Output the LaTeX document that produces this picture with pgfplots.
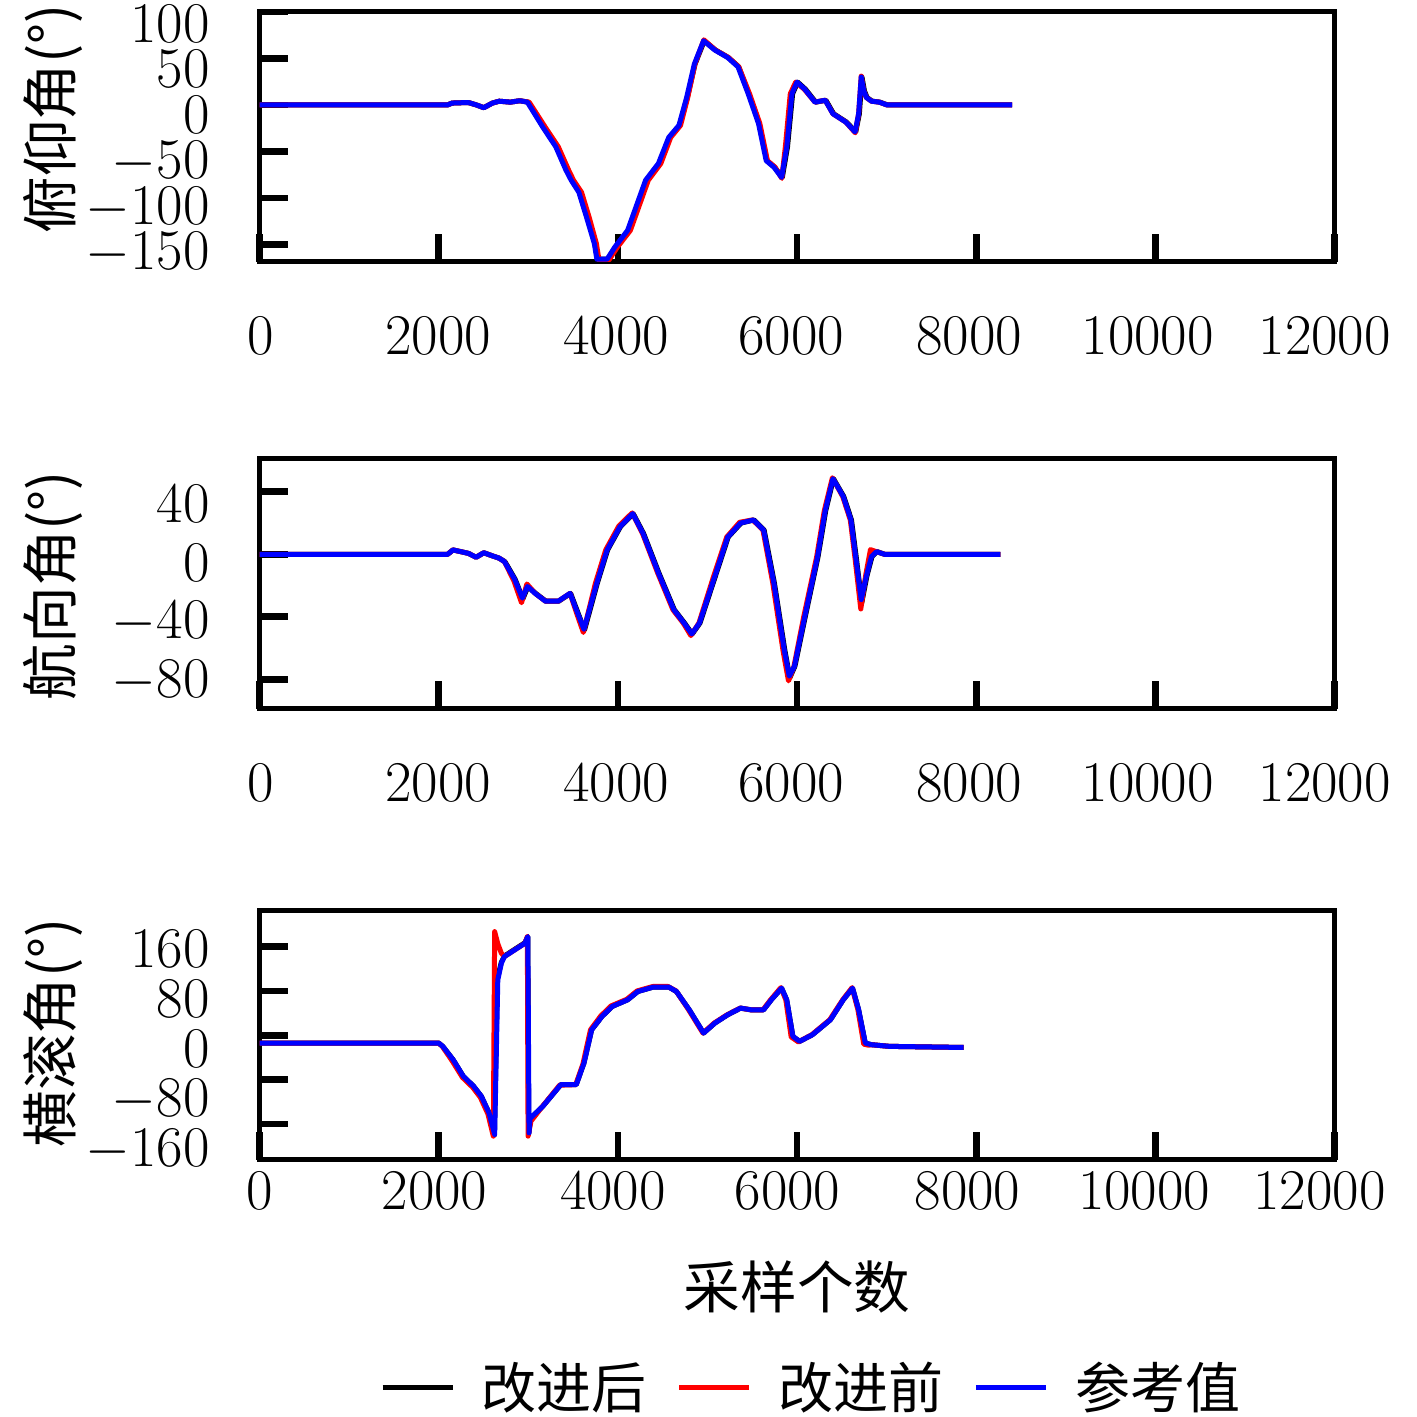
\documentclass[border=0pt]{standalone}
\usepackage{pgfplots}
\pgfplotsset{compat=1.18}
\usepackage{pgfplotstable}
\usepackage{fontspec}
\newfontfamily\cjk{Noto Sans CJK SC}

% ---------- pitch ----------
\pgfplotstableread{
x y
0 0
2100 0
2150 2
2330 2.6
2420 0
2504 -3
2600 2
2676 4
2800 3
2905 4.5
2998 3
3170 -24
3315 -45
3428 -70
3487 -81
3573 -94
3659 -121
3745 -149
3774 -166
3888 -166
3974 -153
4117 -135
4318 -81
4461 -63
4576 -35
4690 -22
4776 8
4862 44
4965 69
5091 59
5234 51
5349 41
5463 12
5578 -20
5664 -60
5750 -67
5836 -78
5894 -45
5951 12
6008 24.5
6094 17
6209 3
6323 5
6409 -9.5
6553 -18.5
6656 -29
6696 -9.5
6725 30
6753 15
6782 8
6839 4
6925 3
7011 0
8400 0
}\pitchblack
\pgfplotstableread{
x y
0 0
2100 0
2150 2
2330 2.6
2420 0
2504 -3
2600 2
2676 4
2800 3
2905 4.5
3010 3
3190 -24
3335 -45
3450 -70
3505 -81
3595 -94
3680 -121
3760 -149
3790 -167
3900 -167
3995 -153
4140 -135
4340 -81
4480 -63
4590 -35
4700 -22
4780 8
4860 44
4960 70
5090 59
5235 51
5350 41
5470 12
5585 -20
5670 -60
5755 -67
5830 -79
5870 -45
5925 12
5985 24.5
6080 17
6201 3
6315 5
6401 -9.5
6545 -18.5
6650 -30
6688 -9.5
6717 31
6745 15
6774 8
6831 4
6917 3
7003 0
8400 0
}\pitchred
\pgfplotstableread{
x y
0 0
2100 0
2150 2
2330 2.6
2420 0
2504 -3
2600 2
2676 4
2800 3
2905 4.5
2990 3
3163 -24
3307 -45
3420 -70
3479 -81
3565 -94
3651 -121
3737 -149
3766 -166
3880 -166
3966 -153
4109 -135
4310 -81
4453 -63
4568 -35
4682 -22
4768 8
4854 44
4957 69
5083 59
5226 51
5341 41
5455 12
5570 -20
5656 -60
5742 -67
5828 -78
5886 -45
5943 12
6000 24.5
6086 17
6201 3
6315 5
6401 -9.5
6545 -18.5
6648 -29
6688 -9.5
6717 30
6745 15
6774 8
6831 4
6917 3
7003 0
8400 0
}\pitchref

% ---------- yaw ----------
\pgfplotstableread{
x y
0 0
2100 0
2160 2.8
2332 0.6
2418 -1.9
2504 1
2600 -1
2676 -2.5
2740 -4.7
2854 -16
2940 -28.5
2997 -20.6
3083 -25
3198 -30
3341 -30
3473 -25
3542 -35.5
3628 -48.5
3771 -18.5
3886 2.8
4029 17.6
4172 26
4287 13.4
4459 -12
4631 -35.5
4745 -44
4831 -51
4917 -44
5089 -14
5232 11
5376 20
5519 22
5633 15.5
5748 -18.5
5863 -61
5920 -79
5977 -71.6
6092 -40
6235 -1.5
6321 28
6407 48.4
6522 37
6608 22
6665 -3.6
6723 -31
6780 -14
6837 -1.5
6894 1.7
6981 0
8270 0
}\yawblack
\pgfplotstableread{
x y
0 0
2100 0
2160 2.8
2332 0.6
2418 -1.9
2504 1
2600 -1
2676 -2.5
2734 -4.7
2840 -17
2925 -31
2985 -19
3077 -25
3192 -30
3335 -30
3467 -25
3530 -36
3615 -50
3750 -18.5
3865 2.8
4010 18
4160 26.5
4275 13.4
4445 -12
4615 -35.5
4730 -44
4815 -52
4905 -44
5070 -14
5215 11
5360 20.5
5505 22
5620 15.5
5730 -18.5
5845 -62
5905 -81
5965 -72
6075 -40
6220 -1.5
6305 28
6395 49
6510 37
6595 22
6650 -3.6
6712 -35
6765 -14
6820 3
6870 2
6975 0
8270 0
}\yawred
\pgfplotstableread{
x y
0 0
2100 0
2160 2.8
2332 0.6
2418 -1.9
2504 1
2600 -1
2676 -2.5
2734 -4.7
2848 -16
2934 -28
2991 -20.6
3077 -25
3192 -30
3335 -30
3467 -25
3536 -35.5
3622 -48
3765 -18.5
3880 2.8
4023 17.6
4166 26
4281 13.4
4453 -12
4625 -35.5
4739 -44
4825 -51
4911 -44
5083 -14
5226 11
5370 20
5513 22
5627 15.5
5742 -18.5
5857 -61
5914 -78
5971 -71.6
6086 -40
6229 -1.5
6315 28
6401 48.4
6516 37
6602 22
6659 -3.6
6717 -29
6774 -14
6831 -1.5
6888 1.7
6975 0
8270 0
}\yawref

% ---------- roll ----------
\pgfplotstableread{
x y
0 -14
2000 -14
2046 -20
2161 -44
2275 -74
2390 -92
2476 -110
2562 -140
2622 -180
2655 102
2700 132
2734 143
2848 155
2963 167
2995 178
3005 -178
3025 -151
3163 -128
3364 -89
3536 -89
3622 -50
3708 10
3823 34
3937 52
4109 64
4224 79
4396 87
4568 87
4654 79
4797 46
4957 4
5083 22
5226 37
5370 49
5484 46
5627 46
5713 64
5828 85
5885 64
5954 -2
6029 -11
6172 1
6373 28
6516 64
6620 85
6688 46
6762 -14
6831 -17
7032 -20
7860 -22
}\rollblack
\pgfplotstableread{
x y
0 -14
2000 -14
2040 -20
2150 -46
2265 -76
2380 -94
2465 -112
2550 -142
2610 -182
2625 187
2660 165
2700 148
2734 142
2848 154
2963 166
2990 178
2998 -182
3030 -155
3150 -130
3350 -90
3530 -89
3610 -52
3695 10
3810 35
3925 53
4100 65
4215 80
4390 88
4560 88
4650 80
4790 46
4950 4
5075 22
5220 37
5365 49
5480 46
5620 46
5705 64
5820 86
5875 64
5935 -3
6015 -12
6165 1
6365 28
6510 64
6615 86
6680 46
6745 -16
6800 -18
6831 -17
7032 -20
7860 -22
}\rollred
\pgfplotstableread{
x y
0 -14
2000 -14
2046 -20
2161 -44
2275 -74
2390 -92
2476 -110
2562 -140
2625 -179
2660 100
2700 130
2734 142
2848 154
2963 166
2995 178
3009 -176
3020 -150
3163 -128
3364 -89
3536 -89
3622 -50
3708 10
3823 34
3937 52
4109 64
4224 79
4396 87
4568 87
4654 79
4797 46
4957 4
5083 22
5226 37
5370 49
5484 46
5627 46
5713 64
5828 85
5885 64
5954 -2
6029 -11
6172 1
6373 28
6516 64
6620 85
6688 46
6762 -14
6831 -17
7032 -20
7860 -22
}\rollref

\pgfplotsset{
  base/.style={
    scale only axis, width=322.5pt, height=75pt,
    xmin=0, xmax=12000,
    axis line style={line width=1.5pt},
    tick style={line width=2pt, black},
    major tick length=8.5pt,
    tick align=inside,
    xtick pos=left, ytick pos=left,
    xtick={0,2000,4000,6000,8000,10000,12000},
    xticklabels={}, yticklabels={},
    scaled ticks=false,
    tick label style={font=\fontsize{17}{20}\selectfont},
    yticklabel style={anchor=east, inner sep=0pt, xshift=-14.8pt},
    extra x tick style={tick style={draw=none}, grid=none},
    extra y tick style={tick style={draw=none}, grid=none},
    every axis plot/.append style={line width=1.5pt, line join=round},
    legend image code/.code={\draw[#1] (0pt,0pt) -- (21pt,0pt);},
  },
}

\begin{document}
\begin{tikzpicture}
\useasboundingbox (0,0) rectangle (425.1pt,425.1pt);

% ---- top: pitch ----
\begin{axis}[base, at={(77.85pt,346.5pt)}, anchor=south west,
  ymin=-169, ymax=100,
  ytick={-150,-100,-50,0,50,100},
  extra y ticks={86.6,38.2,-11.3,-61.5,-110.8,-159.7},
  extra y tick labels={$100$,$50$,$0$,$-50$,$-100$,$-150$},
  extra x ticks={11,1994,3981,5935,7923,9916,11891},
  extra x tick labels={$0$,$2000$,$4000$,$6000$,$8000$,$10000$,$12000$},
  xticklabel style={anchor=center, inner sep=0pt, yshift=-22.2pt},
]
\addplot[black] table {\pitchblack};
\addplot[red] table {\pitchred};
\addplot[blue] table {\pitchref};
\end{axis}

% ---- middle: yaw ----
\begin{axis}[base, at={(77.85pt,212.4pt)}, anchor=south west,
  ymin=-99, ymax=61,
  ytick={-80,-40,0,40},
  extra y ticks={32,-5.4,-43.5,-81.3},
  extra y tick labels={$40$,$0$,$-40$,$-80$},
  extra x ticks={11,1994,3981,5935,7923,9916,11891},
  extra x tick labels={$0$,$2000$,$4000$,$6000$,$8000$,$10000$,$12000$},
  xticklabel style={anchor=center, inner sep=0pt, yshift=-22.2pt},
]
\addplot[black] table {\yawblack};
\addplot[red] table {\yawred};
\addplot[blue] table {\yawref};
\end{axis}

% ---- bottom: roll ----
\begin{axis}[base, at={(77.85pt,77.1pt)}, anchor=south west,
  ymin=-225, ymax=226,
  ytick={-160,-80,0,80,160},
  extra y ticks={156,66,-24,-117.6,-207.7},
  extra y tick labels={$160$,$80$,$0$,$-80$,$-160$},
  extra x ticks={0,1953,3946,5894,7903,9876,11833},
  extra x tick labels={$0$,$2000$,$4000$,$6000$,$8000$,$10000$,$12000$},
  xticklabel style={anchor=center, inner sep=0pt, yshift=-9.3pt},
  legend columns=3,
  legend style={at={(axis description cs:0.5153,-0.912)}, anchor=center,
    draw=none, fill=none,
    font=\cjk\fontsize{16.5}{19}\selectfont,
    /tikz/every odd column/.append style={column sep=6pt},
    /tikz/every even column/.append style={column sep=7pt}},
]
\addplot[black] table {\rollblack};
\addlegendentry{改进后}
\addplot[red] table {\rollred};
\addlegendentry{改进前}
\addplot[blue] table {\rollref};
\addlegendentry{参考值}
\end{axis}

% ---- axis titles ----
\node[rotate=90, inner sep=0pt, font=\cjk\fontsize{17}{20}\selectfont] at (15.9pt,389.4pt) {俯仰角(°)};
\node[rotate=90, inner sep=0pt, font=\cjk\fontsize{17}{20}\selectfont] at (15.9pt,249.4pt) {航向角(°)};
\node[rotate=90, inner sep=0pt, font=\cjk\fontsize{17}{20}\selectfont] at (15.9pt,115.2pt) {横滚角(°)};
\node[inner sep=0pt, font=\cjk\fontsize{17}{20}\selectfont] at (239.1pt,39pt) {采样个数};
\end{tikzpicture}
\end{document}
